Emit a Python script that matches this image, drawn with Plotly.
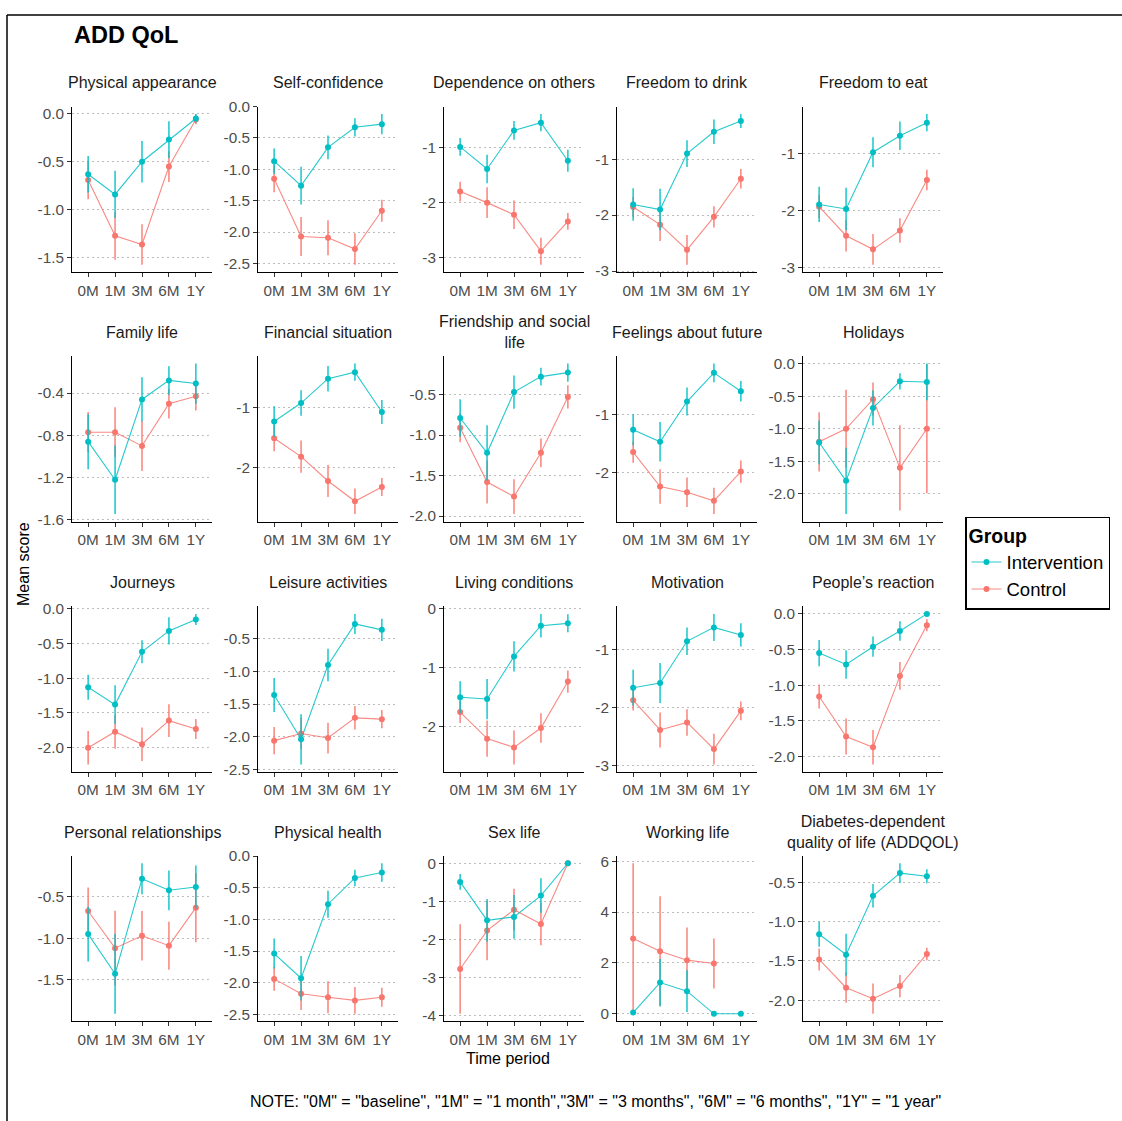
import plotly.graph_objects as go

# ---------------------------------------------------------------
# ADDQoL domain scores by study group over follow-up
# ---------------------------------------------------------------
time_points = ["0M", "1M", "3M", "6M", "1Y"]

domains = [
    "Physical appearance", "Self-confidence", "Dependence on others",
    "Freedom to drink", "Freedom to eat",
    "Family life", "Financial situation", "Friendship and social<br>life",
    "Feelings about future", "Holidays",
    "Journeys", "Leisure activities", "Living conditions",
    "Motivation", "People\u2019s reaction",
    "Personal relationships", "Physical health", "Sex life",
    "Working life", "Diabetes-dependent<br>quality of life (ADDQOL)",
]

# Intervention group: mean score per time point
int_mean = [
    [-0.63, -0.84, -0.50, -0.27, -0.05],
    [-0.87, -1.26, -0.65, -0.33, -0.28],
    [-0.99, -1.39, -0.69, -0.55, -1.24],
    [-1.81, -1.90, -0.90, -0.51, -0.32],
    [-1.89, -1.97, -0.97, -0.68, -0.45],
    [-0.86, -1.22, -0.46, -0.28, -0.31],
    [-1.23, -0.92, -0.51, -0.40, -1.07],
    [-0.79, -1.22, -0.47, -0.28, -0.23],
    [-1.26, -1.47, -0.77, -0.27, -0.59],
    [-1.21, -1.80, -0.68, -0.27, -0.28],
    [-1.13, -1.38, -0.62, -0.32, -0.155],
    [-1.36, -2.04, -0.90, -0.27, -0.36],
    [-1.50, -1.53, -0.81, -0.29, -0.25],
    [-1.66, -1.58, -0.86, -0.62, -0.75],
    [-0.55, -0.71, -0.46, -0.24, 0.00],
    [-0.95, -1.43, -0.28, -0.42, -0.38],
    [-1.54, -1.93, -0.76, -0.345, -0.26],
    [-0.49, -1.50, -1.41, -0.85, 0.00],
    [0.05, 1.23, 0.89, 0.00, 0.00],
    [-1.16, -1.42, -0.67, -0.38, -0.42],
]

# Intervention group: standard error per time point
int_se = [
    [0.19, 0.245, 0.215, 0.19, 0.045],
    [0.20, 0.30, 0.19, 0.145, 0.16],
    [0.16, 0.26, 0.17, 0.155, 0.20],
    [0.29, 0.37, 0.24, 0.22, 0.125],
    [0.31, 0.375, 0.265, 0.25, 0.15],
    [0.26, 0.325, 0.21, 0.135, 0.19],
    [0.255, 0.215, 0.215, 0.145, 0.20],
    [0.23, 0.34, 0.205, 0.11, 0.112],
    [0.27, 0.345, 0.243, 0.163, 0.18],
    [0.335, 0.51, 0.27, 0.125, 0.283],
    [0.18, 0.28, 0.165, 0.197, 0.08],
    [0.26, 0.385, 0.248, 0.155, 0.17],
    [0.27, 0.34, 0.255, 0.20, 0.152],
    [0.31, 0.345, 0.236, 0.233, 0.20],
    [0.184, 0.20, 0.143, 0.138, 0.0],
    [0.33, 0.484, 0.187, 0.24, 0.26],
    [0.237, 0.353, 0.214, 0.13, 0.147],
    [0.207, 0.56, 0.573, 0.453, 0.0],
    [0.04, 0.93, 0.82, 0.0, 0.0],
    [0.16, 0.268, 0.15, 0.125, 0.09],
]

# Control group: mean score per time point (None = not available)
ctl_mean = [
    [-0.69, -1.27, -1.36, -0.55, -0.06],
    [-1.15, -2.07, -2.09, -2.27, -1.66],
    [-1.80, -2.00, -2.22, -2.88, -2.34],
    [-1.855, -2.17, -2.62, -2.03, -1.35],
    [-1.93, -2.44, -2.68, -2.35, -1.46],
    [-0.77, -0.77, -0.90, -0.50, -0.43],
    [-1.51, -1.82, -2.23, -2.57, -2.33],
    [-0.91, -1.58, -1.76, -1.22, -0.53],
    [-1.65, -2.25, -2.35, -2.50, -1.99],
    [-1.20, -1.00, -0.545, -1.60, -1.00],
    [-2.00, -1.77, -1.95, -1.61, -1.73],
    [-2.06, -1.95, -2.02, -1.71, -1.73],
    [-1.75, -2.20, -2.35, -2.02, -1.235],
    [-1.875, -2.39, -2.26, -2.72, -2.06],
    [-1.16, -1.72, -1.87, -0.87, -0.16],
    [-0.67, -1.12, -0.97, -1.09, -0.63],
    [-1.94, -2.175, -2.23, -2.28, -2.23],
    [-2.78, -1.77, -1.22, -1.595, 0.00],
    [2.96, 2.46, 2.11, 1.98, None],
    [-1.48, -1.84, -1.98, -1.82, -1.41],
]

# Control group: standard error per time point
ctl_se = [
    [0.20, 0.25, 0.21, 0.16, 0.05],
    [0.215, 0.31, 0.28, 0.25, 0.175],
    [0.18, 0.28, 0.26, 0.245, 0.15],
    [0.18, 0.29, 0.265, 0.19, 0.175],
    [0.20, 0.28, 0.27, 0.215, 0.18],
    [0.19, 0.235, 0.237, 0.14, 0.135],
    [0.22, 0.27, 0.27, 0.215, 0.15],
    [0.18, 0.265, 0.215, 0.177, 0.143],
    [0.186, 0.30, 0.257, 0.23, 0.194],
    [0.455, 0.60, 0.255, 0.655, 0.99],
    [0.24, 0.246, 0.24, 0.235, 0.145],
    [0.21, 0.236, 0.236, 0.18, 0.14],
    [0.186, 0.305, 0.286, 0.25, 0.188],
    [0.18, 0.30, 0.228, 0.264, 0.162],
    [0.168, 0.253, 0.242, 0.196, 0.085],
    [0.285, 0.453, 0.30, 0.29, 0.417],
    [0.186, 0.258, 0.253, 0.212, 0.15],
    [1.177, 0.776, 0.547, 0.56, 0.0],
    [2.96, 2.16, 1.28, 0.98, None],
    [0.14, 0.193, 0.193, 0.142, 0.08],
]

# y-axis breaks for each panel and the decimals shown on them
y_ticks = [
    [0, -0.5, -1, -1.5],
    [0, -0.5, -1, -1.5, -2, -2.5],
    [-1, -2, -3],
    [-1, -2, -3],
    [-1, -2, -3],
    [-0.4, -0.8, -1.2, -1.6],
    [-1, -2],
    [-0.5, -1, -1.5, -2],
    [-1, -2],
    [0, -0.5, -1, -1.5, -2],
    [0, -0.5, -1, -1.5, -2],
    [-0.5, -1, -1.5, -2, -2.5],
    [0, -1, -2],
    [-1, -2, -3],
    [0, -0.5, -1, -1.5, -2],
    [-0.5, -1, -1.5],
    [0, -0.5, -1, -1.5, -2, -2.5],
    [0, -1, -2, -3, -4],
    [0, 2, 4, 6],
    [-0.5, -1, -1.5, -2],
]
y_decimals = [1, 1, 0, 0, 0, 1, 0, 1, 0, 1, 1, 1, 0, 0, 1, 1, 1, 0, 0, 1]

group_colors = {"Intervention": "#00BFC4", "Control": "#F8766D"}
group_rgba = {"Intervention": "rgba(0,191,196,0.85)", "Control": "rgba(248,118,109,0.85)"}

# ---------------------------------------------------------------
# page geometry (pixels)
# ---------------------------------------------------------------
W, H = 1122, 1121
col_left = [72, 258, 444, 617, 803]
row_top = [99, 352, 606, 859]
panel_w, panel_h = 140, 168
FONT = "Liberation Sans, Arial, Helvetica, sans-serif"


def px_x(x):
    return x / W


def px_y(y):
    return 1 - y / H


def fmt_tick(v, d):
    s = f"{v:.{d}f}"
    return "0" + s[2:] if s.startswith("-0") and float(s) == 0 else s


fig = go.Figure()
annotations = []

for i, name in enumerate(domains):
    r, c = divmod(i, 5)
    ax = "" if i == 0 else str(i + 1)
    x0, y0 = col_left[c], row_top[r]

    # data extent including error bars, expanded by 5 %
    lows, highs = [], []
    for means, ses in ((int_mean[i], int_se[i]), (ctl_mean[i], ctl_se[i])):
        for m, s in zip(means, ses):
            if m is not None:
                lows.append(m - s)
                highs.append(m + s)
    lo, hi = min(lows), max(highs)
    pad = 0.05 * (hi - lo)

    for g in ("Control", "Intervention"):
        means = ctl_mean[i] if g == "Control" else int_mean[i]
        ses = ctl_se[i] if g == "Control" else int_se[i]
        fig.add_trace(go.Scatter(
            x=time_points, y=means,
            mode="lines+markers",
            name=g,
            legendgroup=g,
            legendrank=1 if g == "Intervention" else 2,
            showlegend=(i == 0),
            line=dict(color=group_rgba[g], width=1.1),
            marker=dict(color=group_colors[g], size=6),
            error_y=dict(type="data", array=ses, visible=True, width=0,
                         thickness=1.6, color=group_rgba[g]),
            xaxis="x" + ax, yaxis="y" + ax,
            hoverinfo="x+y+name",
        ))

    fig.layout["xaxis" + ax] = dict(
        domain=[px_x(x0), px_x(x0 + panel_w)],
        anchor="y" + ax,
        type="category", categoryorder="array", categoryarray=time_points,
        range=[-0.6, 4.6],
        showline=True, linecolor="black", linewidth=1,
        ticks="outside", ticklen=4, tickwidth=1, tickcolor="#333333",
        tickfont=dict(family=FONT, size=15.3, color="#4D4D4D"),
        showgrid=False, zeroline=False, fixedrange=True,
    )
    fig.layout["yaxis" + ax] = dict(
        domain=[px_y(y0 + panel_h), px_y(y0)],
        anchor="x" + ax,
        range=[lo - pad, hi + pad],
        tickmode="array", tickvals=y_ticks[i],
        ticktext=[fmt_tick(v, y_decimals[i]) for v in y_ticks[i]],
        showline=True, linecolor="black", linewidth=1,
        ticks="outside", ticklen=4, tickwidth=1, tickcolor="#333333",
        tickfont=dict(family=FONT, size=15.3, color="#4D4D4D"),
        showgrid=True, gridcolor="#BDBDBD", gridwidth=1.3, griddash="2px,3px",
        zeroline=False, fixedrange=True,
    )

    # facet strip label
    annotations.append(dict(
        text=name, x=px_x(x0 + panel_w / 2), y=px_y(y0 - 24),
        xanchor="center", yanchor="middle",
        font=dict(family=FONT, size=16, color="#1A1A1A"),
    ))

# titles and notes
annotations += [
    dict(text="<b>ADD QoL</b>", x=px_x(72), y=px_y(26), xanchor="left", yanchor="middle",
         font=dict(family=FONT, size=23.5, color="black")),
    dict(text="Mean score", x=px_x(24), y=px_y(563), xanchor="center", yanchor="middle",
         textangle=-90, font=dict(family=FONT, size=16, color="black")),
    dict(text="Time period", x=px_x(507.5), y=px_y(1065), xanchor="center", yanchor="middle",
         font=dict(family=FONT, size=16, color="black")),
    dict(text='NOTE: "0M" = "baseline", "1M" = "1 month","3M" = "3 months", '
              '"6M" = "6 months", "1Y" = "1 year"',
         x=px_x(943), y=px_y(1108), xanchor="right", yanchor="middle",
         font=dict(family=FONT, size=16, color="black")),
]
for a in annotations:
    a.update(xref="paper", yref="paper", showarrow=False)

fig.update_layout(
    width=W, height=H,
    margin=dict(l=0, r=0, t=0, b=0),
    paper_bgcolor="white", plot_bgcolor="white",
    font=dict(family=FONT, color="black"),
    annotations=annotations,
    shapes=[
        dict(type="line", xref="paper", yref="paper",
             x0=px_x(7), x1=px_x(7), y0=px_y(6), y1=-0.01,
             line=dict(color="black", width=1.5)),
        dict(type="line", xref="paper", yref="paper",
             x0=px_x(7), x1=1.01, y0=px_y(6), y1=px_y(6),
             line=dict(color="black", width=1.5)),
    ],
    legend=dict(
        title=dict(text="<b>Group</b>", font=dict(family=FONT, size=19.5, color="black")),
        x=px_x(965), y=px_y(515), xanchor="left", yanchor="top",
        bordercolor="black", borderwidth=1.5, bgcolor="white",
        font=dict(family=FONT, size=18.5, color="black"),
        itemwidth=30, tracegroupgap=0, traceorder="normal",
    ),
    showlegend=True,
)

fig.write_html("out.html", config={"displayModeBar": False})
